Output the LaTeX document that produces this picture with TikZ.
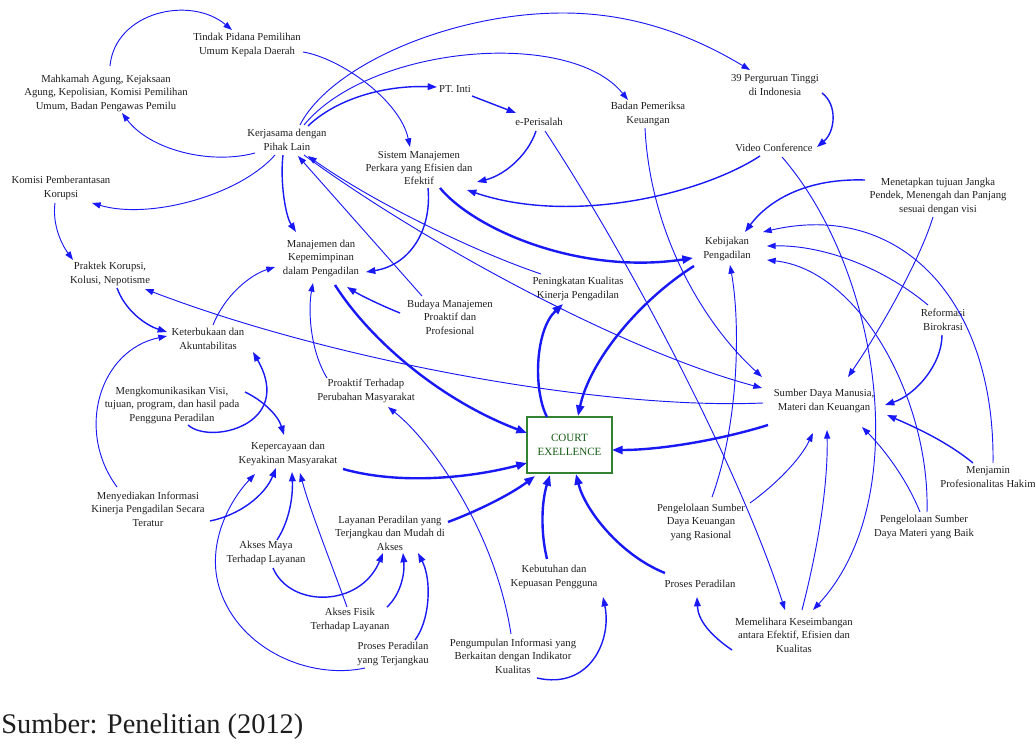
\documentclass[tikz,border=0pt]{standalone}
\usepackage{fontspec}
\setmainfont{Liberation Serif}
\usetikzlibrary{arrows.meta}
\definecolor{ablue}{RGB}{25,25,245}
\definecolor{txt}{RGB}{30,30,30}
\definecolor{cgreen}{RGB}{20,90,20}
\definecolor{cbox}{RGB}{50,130,50}
\begin{document}
\begin{tikzpicture}[x=0.75pt,y=-0.75pt,
  lbl/.style={font=\fontsize{8}{10.1}\selectfont, align=center, inner sep=0pt, text=txt},
  thinarr/.style={draw=ablue, line width=0.7pt, -{Triangle[length=6.5pt,width=4.6pt]}},
  medarr/.style={draw=ablue, line width=1.05pt, -{Triangle[length=7pt,width=5pt]}},
  thickarr/.style={draw=ablue, line width=1.8pt, -{Triangle[length=8pt,width=6pt]}}]
\useasboundingbox (0,0) rectangle (1035,749);

% nodes
\node[lbl] (tindak) at (247,45) {Tindak Pidana Pemilihan\\Umum Kepala Daerah};
\node[lbl] (mahkamah) at (106,93) {Mahkamah Agung, Kejaksaan\\Agung, Kepolisian, Komisi Pemilihan\\Umum, Badan Pengawas Pemilu};
\node[lbl] (kerja) at (287,140) {Kerjasama dengan\\Pihak Lain};
\node[lbl] (ptinti) at (455,89) {PT. Inti};
\node[lbl] (eper) at (539,122) {e-Perisalah};
\node[lbl] (bpk) at (648,114) {Badan Pemeriksa\\Keuangan};
\node[lbl] (pt39) at (775,85) {39 Perguruan Tinggi\\di Indonesia};
\node[lbl] (video) at (774,148) {Video Conference};
\node[lbl] (sistem) at (419,168) {Sistem Manajemen\\Perkara yang Efisien dan\\Efektif};
\node[lbl] (kpk) at (61,188) {Komisi Pemberantasan\\Korupsi};
\node[lbl] (menetapkan) at (938,196) {Menetapkan tujuan Jangka\\Pendek, Menengah dan Panjang\\sesuai dengan visi};
\node[lbl] (kebijakan) at (727,249) {Kebijakan\\Pengadilan};
\node[lbl] (manajemen) at (321,258) {Manajemen dan\\Kepemimpinan\\dalam Pengadilan};
\node[lbl] (praktek) at (110,274) {Praktek Korupsi,\\Kolusi, Nepotisme};
\node[lbl] (peningkatan) at (578,289) {Peningkatan Kualitas\\Kinerja Pengadilan};
\node[lbl] (reformasi) at (943,320) {Reformasi\\Birokrasi};
\node[lbl] (budaya) at (450,317) {Budaya Manajemen\\Proaktif dan\\Profesional};
\node[lbl] (keterbukaan) at (208,339) {Keterbukaan dan\\Akuntabilitas};
\node[lbl] (proaktif) at (366,391) {Proaktif Terhadap\\Perubahan Masyarakat};
\node[lbl] (sdm) at (824,401) {Sumber Daya Manusia,\\Materi dan Keuangan};
\node[lbl] (mengkom) at (172,405) {Mengkomunikasikan Visi,\\tujuan, program, dan hasil pada\\Pengguna Peradilan};
\node[draw=cbox, line width=0.8pt, minimum width=63.75pt, minimum height=42pt, inner sep=0pt,
  align=center, text=cgreen, font=\fontsize{8.3}{10.4}\selectfont] (court) at (569.5,445) {COURT\\EXELLENCE};
\node[lbl] (kepercayaan) at (288,454) {Kepercayaan dan\\Keyakinan Masyarakat};
\node[lbl] (menjamin) at (988,477) {Menjamin\\Profesionalitas Hakim};
\node[lbl] (menyediakan) at (148,509) {Menyediakan Informasi\\Kinerja Pengadilan Secara\\Teratur};
\node[lbl] (pengkeu) at (701,522) {Pengelolaan Sumber\\Daya Keuangan\\yang Rasional};
\node[lbl] (pengmat) at (924,527) {Pengelolaan Sumber\\Daya Materi yang Baik};
\node[lbl] (layanan) at (390,533) {Layanan Peradilan yang\\Terjangkau dan Mudah di\\Akses};
\node[lbl] (aksesmaya) at (266,553) {Akses Maya\\Terhadap Layanan};
\node[lbl] (kebutuhan) at (554,577) {Kebutuhan dan\\Kepuasan Pengguna};
\node[lbl] (prosesp) at (700,584) {Proses Peradilan};
\node[lbl] (aksesfisik) at (350,620) {Akses Fisik\\Terhadap Layanan};
\node[lbl] (memelihara) at (794,635) {Memelihara Keseimbangan\\antara Efektif, Efisien dan\\Kualitas};
\node[lbl] (pengumpulan) at (513,656) {Pengumpulan Informasi yang\\Berkaitan dengan Indikator\\Kualitas};
\node[lbl] (prosest) at (393,654) {Proses Peradilan\\yang Terjangkau};
\node[anchor=base west, inner sep=0pt, text=txt, font=\fontsize{21.3}{24}\selectfont] (caption) at (1,733) {Sumber: Penelitian (2012)};

% connectors: top left
\draw[thinarr] ([shift={(4,-27)}]mahkamah.center) .. controls (115,12) and (190,-5) .. ([shift={(-15,-15)}]tindak.center);
\draw[thinarr] ([shift={(56,7)}]tindak.center) .. controls (340,58) and (400,100) .. ([shift={(-9,-21)}]sistem.center);
\draw[thinarr] ([shift={(-32,13)}]kerja.center) .. controls (210,165) and (150,150) .. ([shift={(16,20)}]mahkamah.center);
\draw[thinarr] ([shift={(-12,15)}]kerja.center) .. controls (240,195) and (150,220) .. ([shift={(31,15)}]kpk.center);
\draw[medarr] ([shift={(-4,15)}]kerja.center) .. controls (280,180) and (285,215) .. ([shift={(-25,-26)}]manajemen.center);
\draw[medarr] ([shift={(21,-14)}]kerja.center) .. controls (335,100) and (382,85) .. ([shift={(-18,-2)}]ptinti.center);
\draw[thinarr] ([shift={(17,-15)}]kerja.center) .. controls (370,45) and (570,28) .. ([shift={(-20,-14)}]bpk.center);
\draw[thinarr] ([shift={(13,-15)}]kerja.center) .. controls (330,66) and (450,13) .. (563,13) .. controls (640,13) and (700,40) .. ([shift={(-25,-15)}]pt39.center);
\draw[medarr] ([shift={(17,7)}]ptinti.center) -- ([shift={(-23,-9)}]eper.center);
\draw[medarr] ([shift={(-3,9)}]eper.center) .. controls (528,155) and (505,175) .. ([shift={(58,14)}]sistem.center);
\draw[thinarr] ([shift={(6,9)}]eper.center) .. controls (630,260) and (740,470) .. ([shift={(-9,-25)}]memelihara.center);
\draw[thinarr] ([shift={(-3,14)}]bpk.center) .. controls (650,230) and (700,320) .. ([shift={(-62,-24)}]sdm.center);
\draw[medarr] ([shift={(-14,8)}]video.center) .. controls (700,195) and (570,225) .. ([shift={(48,22)}]sistem.center);
\draw[medarr] ([shift={(47,8)}]pt39.center) .. controls (838,105) and (835,132) .. ([shift={(43,-1)}]video.center);
\draw[medarr] ([shift={(9,20)}]sistem.center) .. controls (432,230) and (410,265) .. ([shift={(45,14)}]manajemen.center);
\draw[thickarr] ([shift={(21,20)}]sistem.center) .. controls (475,230) and (580,275) .. ([shift={(-34,9)}]kebijakan.center);
\draw[thickarr] ([shift={(-33,17)}]kebijakan.center) .. controls (640,300) and (590,360) .. ([shift={(8.5,-29)}]court.center);
\draw[thickarr] ([shift={(-22.5,-28)}]court.center) .. controls (533,390) and (535,330) .. ([shift={(-15,15)}]peningkatan.center);
\draw[thinarr] ([shift={(-37,-15)}]peningkatan.center) .. controls (470,250) and (370,200) .. ([shift={(21,16)}]kerja.center);
\draw[thinarr] ([shift={(-28,-21)}]budaya.center) -- ([shift={(11,16)}]kerja.center);
\draw[thinarr] ([shift={(17,15)}]kerja.center) .. controls (420,240) and (620,350) .. ([shift={(-62,-13)}]sdm.center);
\draw[thinarr] ([shift={(-61,2)}]sdm.center) .. controls (600,410) and (330,360) .. ([shift={(35,15)}]praktek.center);
\draw[thickarr] ([shift={(-56,24)}]sdm.center) .. controls (720,440) and (660,450) .. ([shift={(42.5,5)}]court.center);

% right side
\draw[medarr] ([shift={(-73,-16)}]menetapkan.center) .. controls (800,178) and (765,205) .. ([shift={(18,-17)}]kebijakan.center);
\draw[thinarr] ([shift={(-5,21)}]menetapkan.center) .. controls (920,260) and (880,330) .. ([shift={(24,-24)}]sdm.center);
\draw[thinarr] ([shift={(5,-14)}]menjamin.center) .. controls (995,300) and (900,200) .. ([shift={(36,-17)}]kebijakan.center);
\draw[thinarr] ([shift={(-15,-15)}]reformasi.center) .. controls (880,265) and (820,245) .. ([shift={(40,-3)}]kebijakan.center);
\draw[thinarr] ([shift={(3,-15)}]pengmat.center) .. controls (930,400) and (860,270) .. ([shift={(40,11)}]kebijakan.center);
\draw[thinarr] ([shift={(-4,-15)}]pengmat.center) .. controls (905,475) and (880,445) .. ([shift={(38,26)}]sdm.center);
\draw[medarr] ([shift={(-1,15)}]reformasi.center) .. controls (942,365) and (915,395) .. ([shift={(61,4)}]sdm.center);
\draw[medarr] ([shift={(-15,-14)}]menjamin.center) .. controls (945,440) and (910,425) .. ([shift={(63,14)}]sdm.center);
\draw[thinarr] ([shift={(8,9)}]video.center) .. controls (880,270) and (915,500) .. ([shift={(19,-25)}]memelihara.center);
\draw[thinarr] ([shift={(11,-25)}]pengkeu.center) .. controls (740,420) and (740,320) .. ([shift={(3,16)}]kebijakan.center);
\draw[thinarr] ([shift={(49,-19)}]pengkeu.center) .. controls (775,485) and (800,460) .. ([shift={(-11,32)}]sdm.center);
\draw[thinarr] ([shift={(8,-25)}]memelihara.center) .. controls (820,540) and (828,480) .. ([shift={(3,29)}]sdm.center);
\draw[medarr] ([shift={(-62,15)}]memelihara.center) .. controls (710,635) and (698,620) .. ([shift={(-3,13)}]prosesp.center);

% into court from below / left
\draw[thickarr] ([shift={(-35,-11)}]prosesp.center) .. controls (620,555) and (585,510) .. ([shift={(6.5,29)}]court.center);
\draw[thickarr] ([shift={(-7,-18)}]kebutuhan.center) .. controls (540,530) and (542,500) .. ([shift={(-19.5,30)}]court.center);
\draw[medarr] ([shift={(24,22)}]pengumpulan.center) .. controls (590,690) and (612,640) .. ([shift={(49,20)}]kebutuhan.center);
\draw[thinarr] ([shift={(-2,-22)}]pengumpulan.center) .. controls (495,530) and (430,440) .. ([shift={(22,16)}]proaktif.center);
\draw[thickarr] ([shift={(58,-11)}]layanan.center) .. controls (475,512) and (510,495) .. ([shift={(-34.5,31)}]court.center);
\draw[thickarr] ([shift={(55,15)}]kepercayaan.center) .. controls (400,485) and (470,478) .. ([shift={(-42.5,18)}]court.center);
\draw[thickarr] ([shift={(14,27)}]manajemen.center) .. controls (370,340) and (440,400) .. ([shift={(-42.5,-12)}]court.center);

% left side
\draw[medarr] ([shift={(-50,-4)}]budaya.center) .. controls (380,305) and (360,295) .. ([shift={(26,29)}]manajemen.center);
\draw[thinarr] ([shift={(-39,-13)}]proaktif.center) .. controls (310,350) and (308,310) .. ([shift={(-8,25)}]manajemen.center);
\draw[thinarr] ([shift={(5,-14)}]keterbukaan.center) .. controls (225,295) and (250,275) .. ([shift={(-46,9)}]manajemen.center);
\draw[thinarr] ([shift={(-6,15)}]kpk.center) .. controls (52,225) and (62,245) .. ([shift={(-37,-14)}]praktek.center);
\draw[medarr] ([shift={(7,14)}]praktek.center) .. controls (125,310) and (145,325) .. ([shift={(-41,-7)}]keterbukaan.center);
\draw[thinarr] ([shift={(-31,-22)}]menyediakan.center) .. controls (75,430) and (100,350) .. ([shift={(-41,-3)}]keterbukaan.center);
\draw[medarr] ([shift={(73,-13)}]mengkom.center) .. controls (262,400) and (278,415) .. ([shift={(-4,-19)}]kepercayaan.center);
\draw[medarr] ([shift={(16,20)}]mengkom.center) .. controls (210,445) and (295,425) .. ([shift={(45,13)}]keterbukaan.center);
\draw[medarr] ([shift={(62,12)}]menyediakan.center) .. controls (240,515) and (265,495) .. ([shift={(-12,14)}]kepercayaan.center);
\draw[medarr] ([shift={(11,-13)}]aksesmaya.center) .. controls (290,520) and (293,495) .. ([shift={(4,18)}]kepercayaan.center);
\draw[medarr] ([shift={(7,15)}]aksesmaya.center) .. controls (290,608) and (360,608) .. ([shift={(-7,20)}]layanan.center);
\draw[thinarr] ([shift={(-3,-13)}]aksesfisik.center) .. controls (330,560) and (310,510) .. ([shift={(12,19)}]kepercayaan.center);
\draw[medarr] ([shift={(37,-13)}]aksesfisik.center) .. controls (400,595) and (405,575) .. ([shift={(13,20)}]layanan.center);
\draw[medarr] ([shift={(22,-14)}]prosest.center) .. controls (430,620) and (432,580) .. ([shift={(28,20)}]layanan.center);
\draw[thinarr] ([shift={(-28,14)}]prosest.center) .. controls (310,680) and (240,650) .. (220,590) .. controls (205,545) and (230,500) .. ([shift={(-33,20)}]kepercayaan.center);
\end{tikzpicture}
\end{document}
